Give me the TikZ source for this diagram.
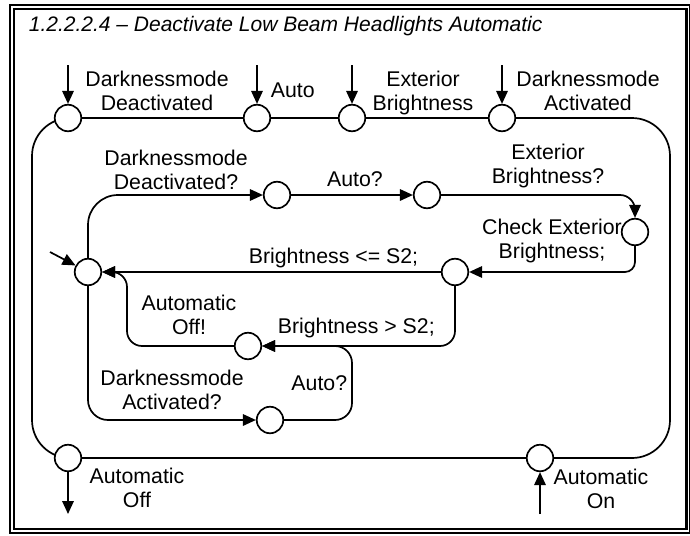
\documentclass[tikz,border=0pt]{standalone}
\usepackage{fontspec}
\setmainfont{Liberation Sans}
\usetikzlibrary{arrows.meta, positioning, calc, backgrounds}

\begin{document}
\begin{tikzpicture}[x=1pt, y=-1pt, line width=1.7pt,
    every on background layer/.style={line width=1.7pt},
    state/.style={circle, draw, line width=1.7pt, fill=white, minimum size=26.5pt, inner sep=0pt},
    lbl/.style={font=\fontsize{21.3}{23.5}\selectfont, align=center, inner sep=0pt, anchor=base},
    arr/.style={-{Triangle[length=13pt, width=11.5pt]}}]
    \useasboundingbox (0,0) rectangle (690,535);

    % Double frame and title
    \draw[line width=1.2pt] (10,5) rectangle (689.4,533);
    \draw[line width=2.2pt] (14,9) rectangle (686.5,529);
    \node[font=\fontsize{21}{24}\selectfont\itshape, anchor=base west, inner sep=0pt] (title) at (28,32) {1.2.2.2.4 \textendash{} Deactivate Low Beam Headlights Automatic};

    % Outer states
    \node[state] (dmd) at (68,118) {};
    \node[state] (auto) at (257,118) {};
    \node[state] (extb) at (352,118) {};
    \node[state] (dma) at (502,118) {};
    \node[state] (autooff) at (68,458) {};
    \node[state] (autoon) at (540,458) {};

    % Inner states
    \node[state] (hub) at (88,272) {};
    \node[state] (qdmd) at (277,195) {};
    \node[state] (qauto) at (427,195) {};
    \node[state] (chk) at (635,232) {};
    \node[state] (cmp) at (455,272) {};
    \node[state] (off) at (248,346) {};
    \node[state] (qdma) at (270,420) {};

    % Free ends and corners
    \coordinate (in1) at (68,65);
    \coordinate (in2) at (257,65);
    \coordinate (in3) at (352,65);
    \coordinate (in4) at (502,65);
    \coordinate (hubin) at (50,252);
    \coordinate (out1) at (68,514);
    \coordinate (in5) at (540,514);
    \coordinate (rside) at (670,0);
    \coordinate (lside) at (32,0);
    \coordinate (offbend) at (127,0);
    \coordinate (autobend) at (352,0);

    % Labels (base = last line)
    \node[lbl] (ldmd) at (157,110) {Darknessmode\\Deactivated};
    \node[lbl, anchor=base west] (lauto) at (270,97) {Auto};
    \node[lbl] (lextb) at (423,110) {Exterior\\Brightness};
    \node[lbl] (ldma) at (588,110) {Darknessmode\\Activated};
    \node[lbl] (lqdmd) at (176,189) {Darknessmode\\Deactivated?};
    \node[lbl] (lqauto) at (355,186) {Auto?};
    \node[lbl] (lqextb) at (548,183) {Exterior\\Brightness?};
    \node[lbl] (lchk) at (552,258) {Check Exterior\\Brightness;};
    \node[lbl, anchor=base west] (lle) at (248,263) {Brightness <= S2;};
    \node[lbl] (loff) at (189,334) {Automatic\\Off!};
    \node[lbl, anchor=base west] (lgt) at (277,333) {Brightness > S2;};
    \node[lbl, anchor=base east] (lqauto2) at (348,390) {Auto?};
    \node[lbl] (lqdma) at (172,409) {Darknessmode\\Activated?};
    \node[lbl] (lautooff) at (137,507) {Automatic\\Off};
    \node[lbl] (lautoon) at (601,508) {Automatic\\On};

    \begin{scope}[on background layer]
        % outer loop
        \draw (dmd) -- (auto) -- (extb) -- (dma);
        \draw[rounded corners=38] (dma.center) -| (rside |- autoon) -- (autoon.center);
        \draw (autoon) -- (autooff);
        \draw[rounded corners=38] (autooff.center) -| (lside |- dmd) -- (dmd.center);
        \draw[arr] (in1) -- (dmd);
        \draw[arr] (in2) -- (auto);
        \draw[arr] (in3) -- (extb);
        \draw[arr] (in4) -- (dma);
        \draw[arr] (autooff) -- (out1);
        \draw[arr] (in5) -- (autoon);

        % inner loop
        \draw[arr] (hubin) -- (hub);
        \draw[arr, rounded corners=30] (hub.center) |- (qdmd);
        \draw[arr] (qdmd) -- (qauto);
        \draw[arr, rounded corners=15] (qauto) -| (chk);
        \draw[arr, rounded corners=10] (chk) |- (cmp);
        \draw[arr] (cmp) -- (hub);
        \draw[arr, rounded corners=15] (cmp) |- (off);
        \draw[arr, rounded corners=15] (off) -| (offbend |- hub) -- (hub);
        \draw[arr, rounded corners=20] (hub.center) |- (qdma);
        \draw[arr, rounded corners=17] (qdma) -| (autobend |- off) -- (off);
    \end{scope}
\end{tikzpicture}
\end{document}
